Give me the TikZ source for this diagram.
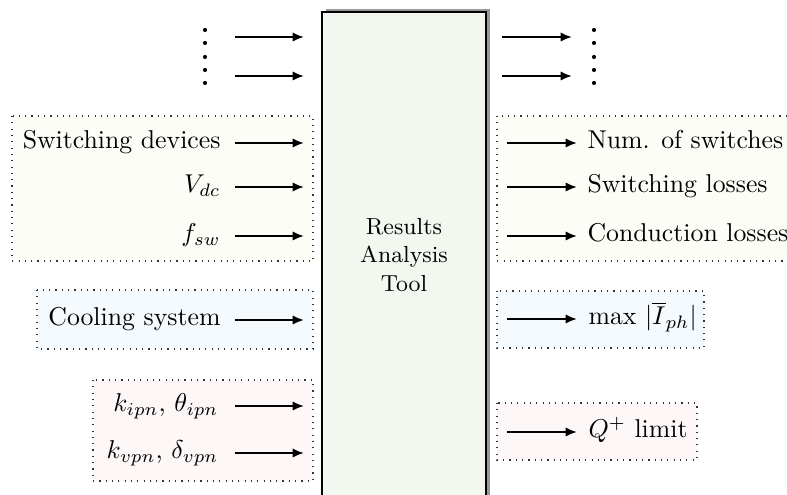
\documentclass[tikz,border=0pt]{standalone}
\usetikzlibrary{arrows.meta}
\definecolor{toolfill}{HTML}{F2F8F0}
\definecolor{swfill}{HTML}{FDFDF7}
\definecolor{coolfill}{HTML}{F5FAFE}
\definecolor{parfill}{HTML}{FDF8F7}
\definecolor{shadowgray}{HTML}{999999}
\definecolor{dotgray}{HTML}{333333}
\begin{document}
\begin{tikzpicture}[x=0.388pt,y=-0.388pt,
  arr/.style={-{Latex[length=4.4pt,width=3.6pt]}, line width=0.75pt},
  grp/.style={draw=dotgray, dotted, line width=0.45pt},
  lt/.style={anchor=base east, inner sep=0pt},
  rt/.style={anchor=base west, inner sep=0pt},
  dotmark/.style={circle, fill=black, inner sep=0pt, minimum size=1.6pt}]
\useasboundingbox (0,0) rectangle (787,495);
\clip (0,0) rectangle (787,495);

% group boxes
\draw[grp, fill=swfill] (12,116) rectangle (313,261);
\draw[grp, fill=swfill] (497,116) rectangle (800,261);
\draw[grp, fill=coolfill] (37,290) rectangle (313,349);
\draw[grp, fill=coolfill] (497,291) rectangle (704,348);
\draw[grp, fill=parfill] (93,380) rectangle (313,481);
\draw[grp, fill=parfill] (497,403) rectangle (697,460);

% main tool box
\fill[shadowgray] (326,9) rectangle (490,510);
\draw[fill=toolfill, line width=1pt] (322,12) rectangle (486,510);
\node[font=\small, align=center] (tool) at (404,255) {Results\\Analysis\\Tool};

% dots
\foreach \yy [count=\i] in {30,43,57,70,83} {
  \node[dotmark] (ld\i) at (205,\yy) {};
  \node[dotmark] (rd\i) at (594,\yy) {};
}

% input coordinates
\foreach \n/\yy in {t1/37,t2/76,a/143,b/187,c/236,d/320,e/406,f/453} {
  \coordinate (\n s) at (235,\yy);
  \coordinate (\n e) at (304,\yy);
}
% output coordinates
\foreach \n/\yy in {u1/37,u2/76} {
  \coordinate (\n s) at (502,\yy);
  \coordinate (\n e) at (572,\yy);
}
\foreach \n/\yy in {p/143,q/187,r/236,m/319,g/432} {
  \coordinate (\n s) at (507,\yy);
  \coordinate (\n e) at (577,\yy);
}

% left labels
\node[lt] (sw) at (221,149) {Switching devices};
\node[lt] (vdc) at (221,193) {$V_{dc}$};
\node[lt] (fsw) at (221,242) {$f_{sw}$};
\node[lt] (cool) at (221,326) {Cooling system};
\node[lt] (kip) at (219,412) {$k_{ipn}$, $\theta_{ipn}$};
\node[lt] (kvp) at (219,459) {$k_{vpn}$, $\delta_{vpn}$};

% right labels
\node[rt] (num) at (587,149) {Num. of switches};
\node[rt] (swl) at (587,193) {Switching losses};
\node[rt] (cdl) at (587,242) {Conduction losses};
\node[rt] (imax) at (588,325) {$\max\,|\overline{I}_{ph}|$};
\node[rt] (qlim) at (588,438) {$Q^{+}$ limit};

% arrows
\foreach \n in {t1,t2,a,b,c,d,e,f,u1,u2,p,q,r,m,g} {
  \draw[arr] (\n s) -- (\n e);
}
\end{tikzpicture}
\end{document}
